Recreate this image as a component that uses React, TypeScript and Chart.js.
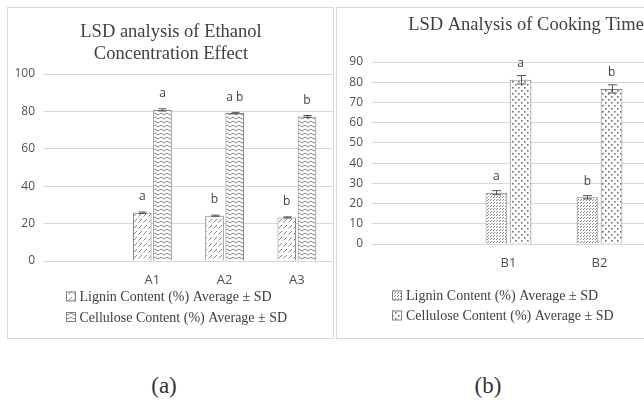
import React, { useEffect, useRef } from "react";
import { Chart, registerables } from "chart.js";

Chart.register(...registerables);

// ---------- Panel (a): ethanol concentration ----------
const categoriesA = ["", "A1", "A2", "A3"];
const ligninA = [null, 25.8, 24.2, 23.3];
const ligninSdA = [null, 0.4, 0.3, 0.3];
const ligninLettersA = ["", "a", "b", "b"];
const celluloseA = [null, 80.8, 79.1, 77.3];
const celluloseSdA = [null, 0.6, 0.4, 0.5];
const celluloseLettersA = ["", "a", "a b", "b"];
const yTicksA = [0, 20, 40, 60, 80, 100];
const titleA = ["LSD analysis of Ethanol", "Concentration Effect"];

// ---------- Panel (b): cooking time ----------
const categoriesB = ["", "B1", "B2", "B3"];
const ligninB = [null, 25.4, 23.1, null];
const ligninSdB = [null, 1.0, 0.8, null];
const ligninLettersB = ["", "a", "b", ""];
const celluloseB = [null, 81.2, 76.7, null];
const celluloseSdB = [null, 2.1, 2.0, null];
const celluloseLettersB = ["", "a", "b", ""];
const yTicksB = [0, 10, 20, 30, 40, 50, 60, 70, 80, 90];
const titleB = ["LSD Analysis of Cooking Time"];

const seriesNames = ["Lignin Content (%) Average \u00b1 SD", "Cellulose Content (%) Average \u00b1 SD"];
const captions = ["(a)", "(b)"];

const SERIF = '"Liberation Serif", "Times New Roman", serif';
const SANS = '"Open Sans", "Liberation Sans", sans-serif';

type PatternKind = "hatch" | "wave" | "stipple" | "dots";

function makePattern(kind: PatternKind): CanvasPattern | string {
  const c = document.createElement("canvas");
  let w = 6, h = 6;
  if (kind === "hatch") { w = 5; h = 6; }
  if (kind === "wave") { w = 6; h = 4; }
  if (kind === "stipple") { w = 3; h = 3; }
  if (kind === "dots") { w = 6; h = 6; }
  c.width = w; c.height = h;
  const g = c.getContext("2d");
  if (!g) return "#ffffff";
  g.fillStyle = "#ffffff";
  g.fillRect(0, 0, w, h);
  g.strokeStyle = "#858585";
  g.fillStyle = "#858585";
  g.lineWidth = 1;
  if (kind === "hatch") {
    g.beginPath(); g.moveTo(0.5, 4.5); g.lineTo(4, 1); g.stroke();
  } else if (kind === "wave") {
    g.beginPath(); g.moveTo(0, 3); g.lineTo(3, 1); g.lineTo(6, 3); g.stroke();
  } else if (kind === "stipple") {
    g.fillRect(0, 0, 1, 1); g.fillRect(1, 2, 1, 1);
  } else {
    g.fillStyle = "#6f6f6f";
    g.fillRect(1, 1, 1.6, 1.6); g.fillRect(4, 4, 1.6, 1.6);
  }
  const p = g.createPattern(c, "repeat");
  return p || "#ffffff";
}

type Spec = {
  categories: string[];
  values: (number | null)[][];
  sds: (number | null)[][];
  letters: string[][];
  yTicks: number[];
  titleLines: string[];
  titleX: number;
  titleBaselines: number[];
  plotLeft: number;
  plotTop: number;
  rightPad: number;
  xAxisHeight: number;
  catPct: number;
  barPct: number;
  legendBoxX: number;
  legendTextX: number;
  legendBaselines: number[];
  patterns: (CanvasPattern | string)[];
  capHalf: number;
};

function build(canvas: HTMLCanvasElement, s: Spec): Chart {
  const annot = {
    id: "annot",
    afterDatasetsDraw(chart: any) {
      const ctx = chart.ctx;
      const y = chart.scales.y;
      chart.data.datasets.forEach((ds: any, i: number) => {
        const meta = chart.getDatasetMeta(i);
        meta.data.forEach((bar: any, j: number) => {
          const v = ds.data[j];
          if (v == null) return;
          const sd = s.sds[i][j] || 0;
          const yt = y.getPixelForValue(v + sd);
          const yb = y.getPixelForValue(v - sd);
          const x = Math.round(bar.x) + 0.5;
          ctx.save();
          ctx.strokeStyle = "#555555";
          ctx.lineWidth = 1;
          ctx.beginPath();
          ctx.moveTo(x, yt); ctx.lineTo(x, yb);
          ctx.moveTo(x - s.capHalf, yt); ctx.lineTo(x + s.capHalf, yt);
          ctx.moveTo(x - s.capHalf, yb); ctx.lineTo(x + s.capHalf, yb);
          ctx.stroke();
          const letter = s.letters[i][j];
          if (letter) {
            ctx.fillStyle = "#404040";
            ctx.font = `12px ${SANS}`;
            ctx.textAlign = "center";
            ctx.textBaseline = "alphabetic";
            ctx.fillText(letter, bar.x, y.getPixelForValue(v) - 12.5);
          }
          ctx.restore();
        });
      });
    },
    afterDraw(chart: any) {
      const ctx = chart.ctx;
      ctx.save();
      ctx.fillStyle = "#404040";
      ctx.font = `18.5px ${SERIF}`;
      ctx.textAlign = "center";
      ctx.textBaseline = "alphabetic";
      s.titleLines.forEach((t, k) => ctx.fillText(t, s.titleX, s.titleBaselines[k]));
      ctx.font = `14px ${SERIF}`;
      ctx.textAlign = "left";
      seriesNames.forEach((name, k) => {
        const bl = s.legendBaselines[k];
        const by = bl - 9.5;
        ctx.fillStyle = s.patterns[k] as any;
        ctx.fillRect(s.legendBoxX, by, 10, 10);
        ctx.strokeStyle = "#7f7f7f";
        ctx.lineWidth = 1;
        ctx.strokeRect(s.legendBoxX + 0.5, by + 0.5, 9, 9);
        ctx.fillStyle = "#404040";
        ctx.fillText(name, s.legendTextX, bl);
      });
      ctx.restore();
    },
  };

  return new Chart(canvas, {
    type: "bar",
    data: {
      labels: s.categories,
      datasets: [0, 1].map((i) => ({
        label: seriesNames[i],
        data: s.values[i] as any,
        backgroundColor: s.patterns[i] as any,
        borderColor: "#7f7f7f",
        borderWidth: 1,
        categoryPercentage: s.catPct,
        barPercentage: s.barPct,
      })),
    },
    options: {
      animation: false,
      responsive: false,
      maintainAspectRatio: false,
      layout: { padding: { top: s.plotTop, right: s.rightPad, bottom: 0, left: 0 } },
      plugins: {
        legend: { display: false },
        title: { display: false },
        tooltip: { enabled: false },
      },
      scales: {
        x: {
          grid: { display: false, drawTicks: false },
          border: { display: false },
          ticks: { font: { family: SANS, size: 13 }, color: "#505050", padding: 11, maxRotation: 0, autoSkip: false },
          afterFit: (sc: any) => { sc.height = s.xAxisHeight; },
        },
        y: {
          min: s.yTicks[0],
          max: s.yTicks[s.yTicks.length - 1],
          grid: { color: "#d9d9d9", drawTicks: false },
          border: { display: false },
          ticks: { font: { family: SANS, size: 12 }, color: "#505050", padding: 9 },
          afterBuildTicks: (sc: any) => { sc.ticks = s.yTicks.map((v) => ({ value: v })); },
          afterFit: (sc: any) => { sc.width = s.plotLeft; },
        },
      },
    } as any,
    plugins: [annot as any],
  });
}

export default function App() {
  const refA = useRef<HTMLCanvasElement | null>(null);
  const refB = useRef<HTMLCanvasElement | null>(null);

  useEffect(() => {
    if (!refA.current || !refB.current) return;
    const chartA = build(refA.current, {
      categories: categoriesA,
      values: [ligninA, celluloseA],
      sds: [ligninSdA, celluloseSdA],
      letters: [ligninLettersA, celluloseLettersA],
      yTicks: yTicksA,
      titleLines: titleA,
      titleX: 163,
      titleBaselines: [28.7, 51.3],
      plotLeft: 36,
      plotTop: 66,
      rightPad: 0,
      xAxisHeight: 77,
      catPct: 0.56,
      barPct: 0.92,
      legendBoxX: 58,
      legendTextX: 71.5,
      legendBaselines: [293, 313.5],
      patterns: [makePattern("hatch"), makePattern("wave")],
      capHalf: 4,
    });
    const chartB = build(refB.current, {
      categories: categoriesB,
      values: [ligninB, celluloseB],
      sds: [ligninSdB, celluloseSdB],
      letters: [ligninLettersB, celluloseLettersB],
      yTicks: yTicksB,
      titleLines: titleB,
      titleX: 189,
      titleBaselines: [22],
      plotLeft: 35,
      plotTop: 54,
      rightPad: 1,
      xAxisHeight: 94,
      catPct: 0.53,
      barPct: 0.9,
      legendBoxX: 55,
      legendTextX: 69,
      legendBaselines: [292, 312],
      patterns: [makePattern("stipple"), makePattern("dots")],
      capHalf: 4.5,
    });
    return () => {
      chartA.destroy();
      chartB.destroy();
    };
  }, []);

  return (
    <div
      style={{
        position: "fixed",
        left: 0,
        top: 0,
        width: 644,
        height: 403,
        overflow: "hidden",
        background: "#ffffff",
      }}
    >
      <div
        style={{
          position: "absolute",
          left: 7,
          top: 7,
          width: 327,
          height: 332,
          border: "1px solid #d9d9d9",
          boxSizing: "border-box",
          background: "#ffffff",
        }}
      >
        <canvas ref={refA} width={325} height={330} style={{ display: "block", width: 325, height: 330 }} />
      </div>
      <div
        style={{
          position: "absolute",
          left: 336,
          top: 7,
          width: 402,
          height: 332,
          border: "1px solid #d9d9d9",
          boxSizing: "border-box",
          background: "#ffffff",
        }}
      >
        <canvas ref={refB} width={400} height={330} style={{ display: "block", width: 400, height: 330 }} />
      </div>
      {captions.map((c, i) => (
        <div
          key={c}
          style={{
            position: "absolute",
            left: (i === 0 ? 164 : 488) - 50,
            top: 371,
            width: 100,
            lineHeight: "30px",
            textAlign: "center",
            fontFamily: SERIF,
            fontSize: 23,
            color: "#333333",
          }}
        >
          {c}
        </div>
      ))}
    </div>
  );
}
